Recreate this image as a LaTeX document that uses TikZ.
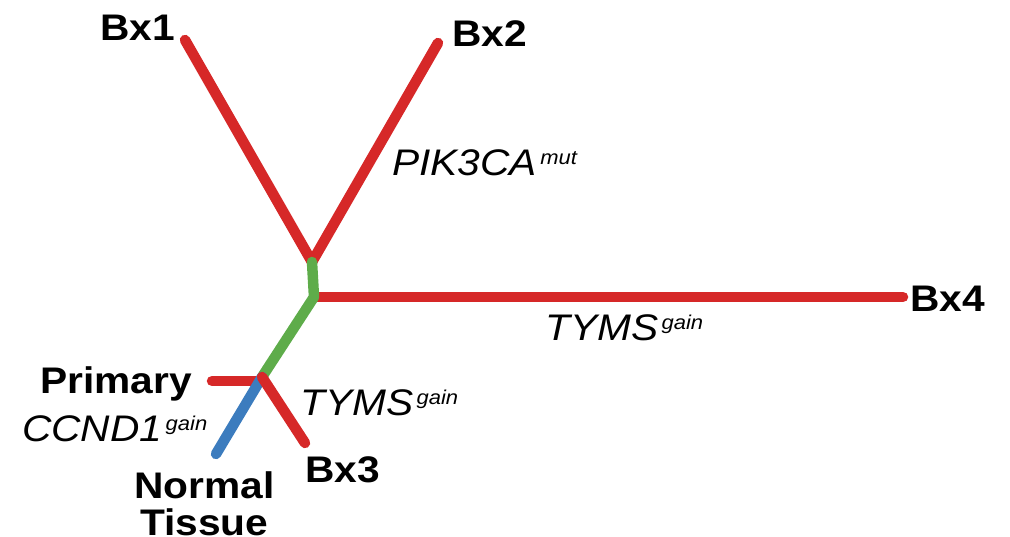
\documentclass[tikz,border=0pt]{standalone}
\usepackage{fontspec}
\setmainfont{Liberation Sans}
\definecolor{branchred}{RGB}{214,40,40}
\definecolor{branchgreen}{RGB}{94,172,74}
\definecolor{branchblue}{RGB}{60,124,190}
\newcommand\stretchtxt[1]{\scalebox{1.1}[1]{#1}}
\newcommand\gene[2]{\stretchtxt{\itshape #1\hspace{3pt}\raisebox{11pt}{\fontsize{20}{20}\selectfont #2}}}
\tikzset{
  branch/.style={line width=10.5pt, line cap=round, line join=round},
  sample/.style={inner sep=0pt, anchor=base west, font=\bfseries\fontsize{37}{37}\selectfont},
  event/.style={inner sep=0pt, anchor=base west, font=\fontsize{37}{37}\selectfont},
}
\begin{document}
\begin{tikzpicture}[x=1pt,y=-1pt]
\useasboundingbox (0,0) rectangle (1010,537);
% branch points
\coordinate (v1) at (312,262);
\coordinate (v2) at (314,297);
\coordinate (v3) at (262,377);
\coordinate (pJ) at (256,381);
% tips
\coordinate (e1) at (185,40);
\coordinate (e2) at (438,43);
\coordinate (e4) at (903,297);
\coordinate (eP) at (212,381);
\coordinate (eN) at (216,454);
\coordinate (e3) at (305,443);
% branches
\draw[branch, branchred] (e1) -- (v1) -- (e2);
\draw[branch, branchred] (v2) -- (e4);
\draw[branch, branchred] (eP) -- (pJ);
\draw[branch, branchgreen] (v1) -- (v2) -- (v3);
\draw[branch, branchblue] (v3) -- (eN);
\draw[branch, branchred] (v3) -- (e3);
% sample labels
\node[sample] (bx1) at (100,41) {\stretchtxt{Bx1}};
\node[sample] (bx2) at (452,47) {\stretchtxt{Bx2}};
\node[sample] (bx4) at (910,312) {\stretchtxt{Bx4}};
\node[sample] (bx3) at (305,482) {\stretchtxt{Bx3}};
\node[sample] (prim) at (40,394) {\stretchtxt{Primary}};
\node[sample, align=center] (norm) at (134,535) {\stretchtxt{Normal}\\\stretchtxt{Tissue}};
% genomic events
\node[event] (pik) at (392,176) {\gene{PIK3CA}{mut}};
\node[event] (tyms1) at (545,341) {\gene{TYMS}{gain}};
\node[event] (tyms2) at (300,415) {\gene{TYMS}{gain}};
\node[event] (ccnd) at (22,442) {\gene{CCND1}{gain}};
\end{tikzpicture}
\end{document}
